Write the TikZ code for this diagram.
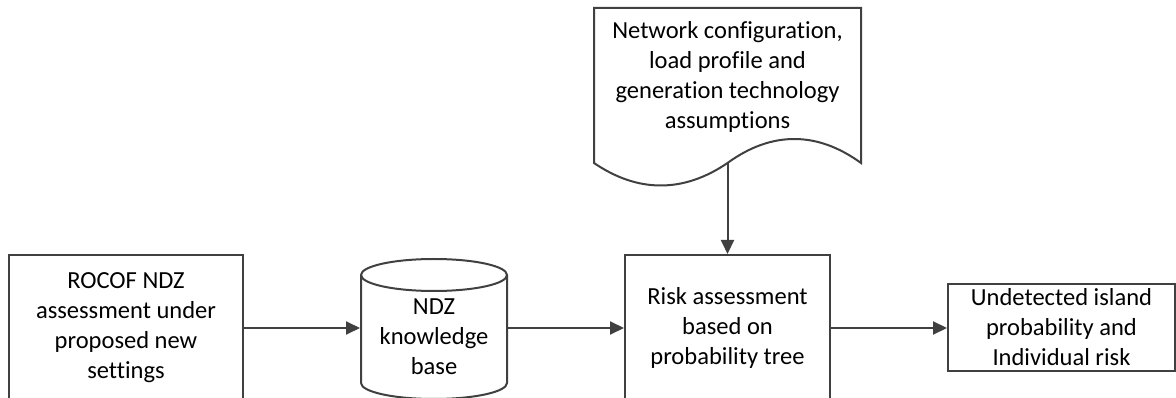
\documentclass[tikz,border=0pt]{standalone}
\usepackage{fontspec}
\setmainfont[Ligatures=NoCommon]{Carlito}
\usetikzlibrary{arrows.meta,calc}
\tikzset{every picture/.style={line width=1.5pt}}
\definecolor{edgegray}{RGB}{64,64,64}
\newcommand{\diagfont}{\fontsize{18.4}{22.5}\selectfont}
\tikzset{
  blockbox/.style={draw=edgegray, align=center, inner sep=0.75pt, font=\diagfont},
  plaintext/.style={align=center, inner sep=0.75pt, font=\diagfont},
  flowarrow/.style={draw=edgegray, -{Triangle[length=10.5pt, width=9.75pt]}}
}

\begin{document}
\begin{tikzpicture}[x=0.75pt,y=0.75pt,yscale=-1,xscale=1]
\useasboundingbox (0,0) rectangle (1176,398);

%Shape: Rectangle [id:rocof]
\node[blockbox, minimum width=175.5pt, minimum height=109.5pt] (rocof) at (126,328) {ROCOF NDZ\\assessment under\\proposed new\\settings};
%Shape: Can [id:ndz]
\node[plaintext, minimum width=109.5pt] (ndz) at (434,337) {NDZ\\knowledge\\base};
\draw[edgegray] ($(ndz.center)+(0,-62)$) ellipse [x radius=73, y radius=16];
\draw[edgegray] ($(ndz.center)+(-73,-62)$) -- ($(ndz.center)+(-73,46)$) arc [start angle=180, end angle=0, x radius=73, y radius=16] -- ($(ndz.center)+(73,-62)$);
%Shape: Rectangle [id:risk]
\node[blockbox, minimum width=153.75pt, minimum height=109.5pt] (risk) at (727.5,328) {Risk assessment\\based on\\probability tree};
%Shape: Rectangle [id:result]
\node[blockbox, minimum width=170.25pt, minimum height=65.25pt] (result) at (1061.5,327.5) {Undetected island\\probability and\\Individual risk};
%Shape: Document [id:inputs]
\node[plaintext, minimum width=198.75pt, minimum height=102pt] (inputs) at (727.5,77) {Network configuration,\\load profile and\\generation technology\\assumptions};
\draw[edgegray] (inputs.north west) -- (inputs.north east) -- ($(inputs.south east)+(0,17)$) .. controls +(-44,-32) and +(44,-32) .. ($(inputs.south)+(0,17)$) coordinate (wave) .. controls +(-44,30) and +(44,30) .. ($(inputs.south west)+(0,17)$) -- cycle;

%Straight Lines
\draw[flowarrow] (rocof.east) -- (rocof.east -| ndz.west);
\draw[flowarrow] (ndz.east |- risk.west) -- (risk.west);
\draw[flowarrow] (risk.east) -- (risk.east -| result.west);
\draw[flowarrow] (wave) -- (risk.north);

\end{tikzpicture}
\end{document}
